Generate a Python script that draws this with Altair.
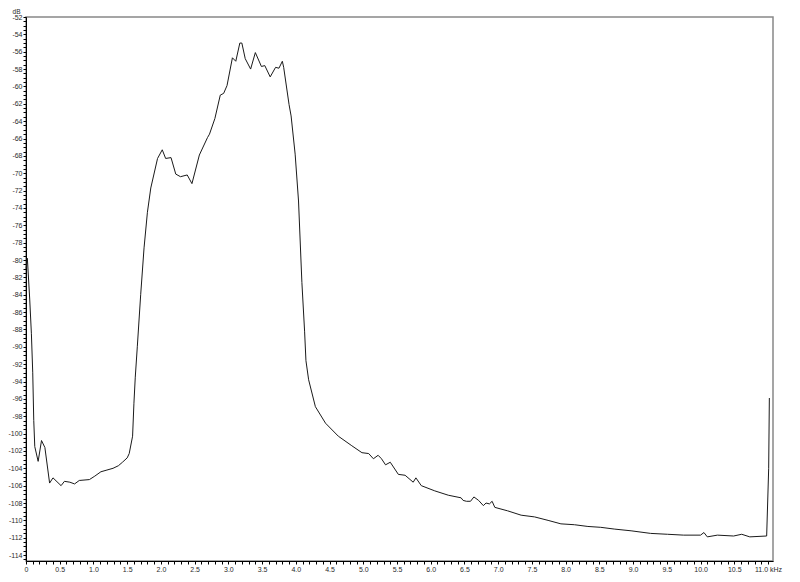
import altair as alt
import pandas as pd

freq_khz = [0.00, 0.02, 0.055, 0.08, 0.10, 0.115, 0.13, 0.18, 0.23, 0.28, 0.35, 0.40, 0.52, 0.57, 0.65,
            0.72, 0.79, 0.94, 1.02, 1.11, 1.20, 1.29, 1.37, 1.43, 1.50, 1.53, 1.58, 1.60, 1.62, 1.65,
            1.70, 1.75, 1.80, 1.85, 1.95, 2.02, 2.07, 2.15, 2.22, 2.29, 2.39, 2.46, 2.57, 2.69, 2.72,
            2.80, 2.88, 2.93, 2.98, 3.06, 3.11, 3.17, 3.20, 3.25, 3.33, 3.40, 3.49, 3.54, 3.62, 3.70,
            3.75, 3.80, 3.82, 3.90, 3.93, 3.99, 4.04, 4.09, 4.13, 4.15, 4.19, 4.29, 4.44, 4.63, 4.83,
            4.98, 5.08, 5.15, 5.22, 5.27, 5.33, 5.40, 5.52, 5.62, 5.74, 5.78, 5.86, 6.06, 6.26, 6.45,
            6.48, 6.53, 6.59, 6.64, 6.71, 6.78, 6.82, 6.87, 6.91, 6.95, 7.14, 7.34, 7.54, 7.74, 7.93,
            8.13, 8.33, 8.52, 8.72, 8.97, 9.26, 9.51, 9.75, 10.00, 10.05, 10.10, 10.25, 10.49, 10.61,
            10.73, 10.98, 11.01, 11.02]
level_db = [-81.0, -79.8, -84.5, -88.5, -93.0, -98.5, -101.5, -103.2, -100.8, -101.6, -105.7, -105.1, -106.0, -105.5, -105.6,
            -105.8, -105.4, -105.3, -104.9, -104.4, -104.2, -104.0, -103.7, -103.3, -102.8, -102.3, -100.3, -96.5, -93.5, -90.0,
            -84.0, -78.6, -74.5, -71.7, -68.3, -67.3, -68.3, -68.2, -70.1, -70.4, -70.2, -71.2, -67.9, -65.9, -65.5,
            -63.7, -61.0, -60.8, -59.9, -56.7, -57.1, -55.0, -55.0, -56.8, -58.0, -56.1, -57.7, -57.6, -58.9, -57.8,
            -57.9, -57.1, -57.8, -62.1, -63.4, -67.8, -73.2, -82.6, -88.2, -91.6, -93.8, -96.9, -98.8, -100.3, -101.4,
            -102.2, -102.3, -102.9, -102.5, -102.9, -103.6, -103.3, -104.7, -104.8, -105.6, -105.1, -106.0, -106.6, -107.1, -107.4,
            -107.7, -107.8, -107.8, -107.3, -107.7, -108.3, -108.0, -108.1, -107.8, -108.5, -108.9, -109.4, -109.6, -110.0, -110.4,
            -110.5, -110.7, -110.8, -111.0, -111.2, -111.5, -111.6, -111.7, -111.7, -111.4, -111.9, -111.7, -111.8, -111.6,
            -111.9, -111.8, -104.0, -95.9]

x_ticks = [round(i * 0.1, 1) for i in range(0, 111)]
y_ticks = [round(-52 - i * 0.5, 1) for i in range(0, 126)]

df = pd.DataFrame({"f": freq_khz, "db": level_db})

FONT = "Liberation Sans"
LABEL_COLOR = "#2a2a2a"

x_axis = alt.Axis(
    values=x_ticks,
    labelExpr="abs(datum.value*2 - round(datum.value*2)) > 0.001 ? '' : (datum.value == 0 ? '0' : (datum.value == 11 ? '11.0 kHz' : format(datum.value, '.1f')))",
    grid=False, domainColor="#000000", tickColor="#000000", tickSize=3,
    labelFont=FONT, labelFontSize=7, labelColor=LABEL_COLOR, labelPadding=1,
    labelOverlap=False, labelFlush=False, title=None,
)
y_axis = alt.Axis(
    values=y_ticks,
    labelExpr="datum.value % 2 == 0 ? '' + datum.value : ''",
    grid=False, domainColor="#000000", tickColor="#000000", tickSize=3,
    labelFont=FONT, labelFontSize=7, labelColor=LABEL_COLOR, labelPadding=1,
    labelOverlap=False, labelFlush=False,
    title="dB", titleAngle=0, titleX=-10, titleY=-4, titleAlign="center",
    titleBaseline="alphabetic",
    titleFont=FONT, titleFontSize=6.5, titleFontWeight="normal", titleColor=LABEL_COLOR,
)

chart = alt.Chart(df).mark_line(color="#1a1a1a", strokeWidth=1).encode(
    x=alt.X("f:Q", scale=alt.Scale(domain=[0, 11.074], nice=False, zero=False), axis=x_axis),
    y=alt.Y("db:Q", scale=alt.Scale(domain=[-114.68, -52], nice=False, zero=False), axis=y_axis),
    order="f:Q",
).properties(
    width=747, height=544,
    autosize=alt.AutoSizeParams(type="none"),
    padding={"left": 18, "top": 9, "right": 19, "bottom": 12},
    background="#ffffff",
).configure_view(stroke="#888888", strokeWidth=1.5)

chart.save("out.html", embed_options={"renderer": "svg", "actions": False})
